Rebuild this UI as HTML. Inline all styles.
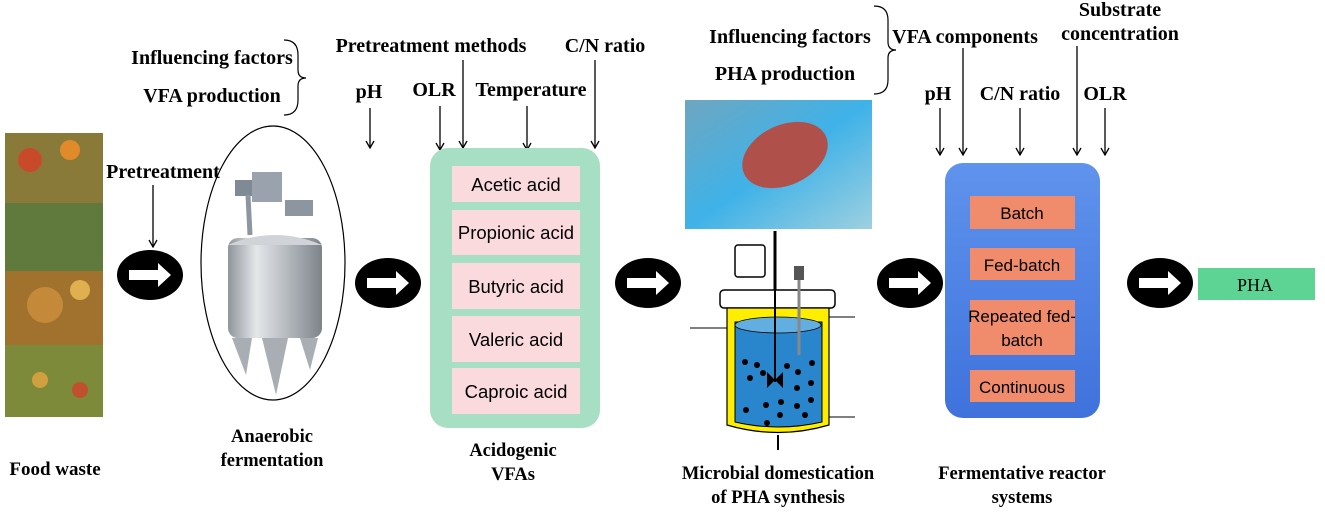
<!DOCTYPE html>
<html><head><meta charset="utf-8"><style>
body{margin:0;background:#fff}
svg text{font-family:"Liberation Serif",serif;font-weight:bold;fill:#000}
.s text{font-family:"Liberation Sans",sans-serif;font-weight:normal}
</style></head><body>
<svg width="1325" height="514" viewBox="0 0 1325 514" xmlns="http://www.w3.org/2000/svg">
<defs>
<marker id="a" markerWidth="10" markerHeight="10" refX="8" refY="5" orient="auto" markerUnits="userSpaceOnUse"><path d="M1,1 L8,5 L1,9" fill="none" stroke="#000" stroke-width="1.3"/></marker>
<linearGradient id="tank" x1="0" x2="1"><stop offset="0" stop-color="#8f959b"/><stop offset=".3" stop-color="#e4e7ea"/><stop offset=".6" stop-color="#b9bec3"/><stop offset="1" stop-color="#7d8389"/></linearGradient>
<linearGradient id="blue" x1="0" x2="0" y1="0" y2="1"><stop offset="0" stop-color="#5f93ec"/><stop offset="1" stop-color="#3f72dc"/></linearGradient>
<linearGradient id="photo" x1="0" x2="1" y1="0" y2="1"><stop offset="0" stop-color="#6fa6c0"/><stop offset=".5" stop-color="#3fb2e8"/><stop offset="1" stop-color="#9ed0e0"/></linearGradient>
<g id="ba"><ellipse cx="0" cy="0" rx="33" ry="25" fill="#000"/><path d="M-21,-5 H8 V-12 L21,0 L8,12 V5 H-21 Z" fill="#fff"/></g>
</defs>
<!-- food waste -->
<rect x="5" y="133" width="98" height="70" fill="#8a7a3a"/>
<rect x="5" y="203" width="98" height="68" fill="#5f7a3c"/>
<rect x="5" y="271" width="98" height="74" fill="#a0722e"/>
<rect x="5" y="345" width="98" height="72" fill="#7d8a3a"/>
<circle cx="30" cy="160" r="12" fill="#c94a2a"/><circle cx="70" cy="150" r="10" fill="#e08a2a"/><circle cx="45" cy="305" r="18" fill="#c48a3a"/><circle cx="80" cy="290" r="10" fill="#e0b050"/><circle cx="40" cy="380" r="8" fill="#d0a040"/><circle cx="80" cy="390" r="8" fill="#c05030"/>
<text x="55" y="475" font-size="19" text-anchor="middle">Food waste</text>
<text x="163" y="178" font-size="20" text-anchor="middle">Pretreatment</text>
<line x1="153" y1="185" x2="153" y2="247" stroke="#000" stroke-width="1.3" marker-end="url(#a)"/>
<use href="#ba" x="150" y="275"/><use href="#ba" x="388" y="283"/><use href="#ba" x="648" y="283"/><use href="#ba" x="910" y="283"/><use href="#ba" x="1160" y="283"/>
<!-- tank -->
<ellipse cx="273" cy="263" rx="72" ry="137" fill="none" stroke="#000" stroke-width="1.2"/>
<rect x="235" y="180" width="20" height="16" fill="#7f8a96"/><rect x="252" y="172" width="30" height="30" fill="#9aa3ad"/><rect x="285" y="200" width="28" height="16" fill="#8d96a0"/><line x1="248" y1="195" x2="250" y2="235" stroke="#8d96a0" stroke-width="5"/>
<rect x="228" y="238" width="94" height="100" rx="10" fill="url(#tank)"/>
<path d="M228,245 Q275,225 322,245 Z" fill="#d0d4d8"/>
<path d="M232,338 L246,375 L252,338 Z M262,338 L276,395 L288,338 Z M300,338 L310,370 L318,338 Z" fill="#a8aeb4"/>
<text x="272" y="442" font-size="18.5" text-anchor="middle">Anaerobic</text>
<text x="272" y="466" font-size="18.5" text-anchor="middle">fermentation</text>
<!-- top labels left -->
<text x="212" y="64" font-size="20" text-anchor="middle">Influencing factors</text>
<text x="212" y="102" font-size="20" text-anchor="middle">VFA production</text>
<path d="M284,40 Q298,40 298,55 V70 Q298,78 306,78 Q298,78 298,86 V100 Q298,115 284,115" fill="none" stroke="#000" stroke-width="1.2"/>
<text x="431" y="52" font-size="20" text-anchor="middle">Pretreatment methods</text>
<text x="605" y="52" font-size="20" text-anchor="middle">C/N ratio</text>
<text x="369" y="98" font-size="20" text-anchor="middle">pH</text>
<text x="434" y="96" font-size="20" text-anchor="middle">OLR</text>
<text x="531" y="96" font-size="20" text-anchor="middle">Temperature</text>
<g stroke="#000" stroke-width="1.3" marker-end="url(#a)">
<line x1="370" y1="108" x2="370" y2="148"/><line x1="440" y1="106" x2="440" y2="150"/><line x1="463" y1="60" x2="463" y2="148"/><line x1="527" y1="106" x2="527" y2="150"/><line x1="595" y1="60" x2="595" y2="148"/>
<line x1="940" y1="108" x2="940" y2="155"/><line x1="963" y1="48" x2="963" y2="155"/><line x1="1020" y1="108" x2="1020" y2="155"/><line x1="1077" y1="46" x2="1077" y2="155"/><line x1="1105" y1="108" x2="1105" y2="155"/>
</g>
<!-- green VFA box -->
<rect x="430" y="148" width="170" height="280" rx="18" fill="#a6dfc3"/>
<g fill="#fadadd"><rect x="452" y="166" width="128" height="36"/><rect x="452" y="210" width="128" height="45"/><rect x="452" y="263" width="128" height="46"/><rect x="452" y="316" width="128" height="46"/><rect x="452" y="368" width="128" height="46"/></g>
<g class="s" font-size="18.5"><text x="516" y="191" text-anchor="middle">Acetic acid</text><text x="516" y="239" text-anchor="middle">Propionic acid</text><text x="516" y="293" text-anchor="middle">Butyric acid</text><text x="516" y="346" text-anchor="middle">Valeric acid</text><text x="516" y="398" text-anchor="middle">Caproic acid</text></g>
<text x="513" y="456" font-size="18.5" text-anchor="middle">Acidogenic</text>
<text x="513" y="480" font-size="18.5" text-anchor="middle">VFAs</text>
<!-- photo -->
<rect x="685" y="100" width="187" height="129" fill="url(#photo)"/>
<ellipse cx="785" cy="155" rx="45" ry="30" fill="#b0504a" transform="rotate(-25 785 155)"/>
<!-- bioreactor -->
<line x1="775" y1="231" x2="775" y2="290" stroke="#000" stroke-width="3"/>
<rect x="735" y="245" width="30" height="32" rx="3" fill="#fff" stroke="#000" stroke-width="1.5"/>
<rect x="720" y="290" width="115" height="18" rx="4" fill="#fff" stroke="#000" stroke-width="1.5"/>
<path d="M727,308 H829 V425 Q778,440 727,425 Z" fill="#ffee00" stroke="#000" stroke-width="1.2"/>
<path d="M735,322 H822 V422 Q778,432 735,422 Z" fill="#2a86cc" stroke="#000" stroke-width="1"/>
<ellipse cx="778" cy="325" rx="43" ry="8" fill="#62aee0" stroke="#000" stroke-width=".8"/>
<line x1="799" y1="275" x2="799" y2="355" stroke="#888" stroke-width="3"/>
<rect x="794" y="266" width="10" height="14" fill="#555"/>
<line x1="775" y1="290" x2="775" y2="382" stroke="#000" stroke-width="2"/>
<path d="M767,372 L783,388 V372 L767,388 Z" fill="#000"/>
<g fill="#000"><circle cx="745" cy="362" r="3"/><circle cx="757" cy="365" r="3"/><circle cx="750" cy="378" r="3"/><circle cx="763" cy="373" r="3"/><circle cx="787" cy="366" r="3"/><circle cx="798" cy="372" r="3"/><circle cx="812" cy="363" r="3"/><circle cx="811" cy="383" r="3"/><circle cx="797" cy="388" r="3"/><circle cx="766" cy="405" r="3"/><circle cx="781" cy="402" r="3"/><circle cx="746" cy="410" r="3"/><circle cx="797" cy="406" r="3"/><circle cx="811" cy="400" r="3"/><circle cx="767" cy="423" r="3"/><circle cx="780" cy="415" r="3"/><circle cx="805" cy="415" r="3"/></g>
<line x1="690" y1="328" x2="727" y2="328" stroke="#000"/><line x1="829" y1="317" x2="855" y2="317" stroke="#000"/><line x1="829" y1="417" x2="855" y2="417" stroke="#000"/>
<line x1="778" y1="435" x2="778" y2="450" stroke="#000" stroke-width="2"/>
<text x="778" y="479" font-size="18.5" text-anchor="middle">Microbial domestication</text>
<text x="778" y="503" font-size="18.5" text-anchor="middle">of PHA synthesis</text>
<!-- right top labels -->
<text x="790" y="43" font-size="20" text-anchor="middle">Influencing factors</text>
<text x="785" y="80" font-size="20" text-anchor="middle">PHA production</text>
<path d="M874,6 Q888,6 888,20 V42 Q888,50 896,50 Q888,50 888,58 V80 Q888,94 874,94" fill="none" stroke="#000" stroke-width="1.2"/>
<text x="965" y="43" font-size="20" text-anchor="middle">VFA components</text>
<text x="1120" y="16" font-size="20" text-anchor="middle">Substrate</text>
<text x="1120" y="40" font-size="20" text-anchor="middle">concentration</text>
<text x="938" y="100" font-size="20" text-anchor="middle">pH</text>
<text x="1020" y="100" font-size="20" text-anchor="middle">C/N ratio</text>
<text x="1105" y="100" font-size="20" text-anchor="middle">OLR</text>
<!-- blue box -->
<rect x="945" y="163" width="155" height="255" rx="18" fill="url(#blue)"/>
<g fill="#f08b6c"><rect x="970" y="196" width="105" height="33"/><rect x="970" y="248" width="105" height="32"/><rect x="970" y="300" width="105" height="55"/><rect x="970" y="370" width="105" height="32"/></g>
<g class="s" font-size="17"><text x="1022" y="219" text-anchor="middle">Batch</text><text x="1022" y="271" text-anchor="middle">Fed-batch</text><text x="1022" y="322" text-anchor="middle">Repeated fed-</text><text x="1022" y="346" text-anchor="middle">batch</text><text x="1022" y="393" text-anchor="middle">Continuous</text></g>
<text x="1022" y="479" font-size="18.5" text-anchor="middle">Fermentative reactor</text>
<text x="1022" y="503" font-size="18.5" text-anchor="middle">systems</text>
<rect x="1198" y="268" width="117" height="32" fill="#5dd394"/>
<text x="1255" y="291" font-size="18" text-anchor="middle" style="font-weight:normal">PHA</text>
</svg>
</body></html>
